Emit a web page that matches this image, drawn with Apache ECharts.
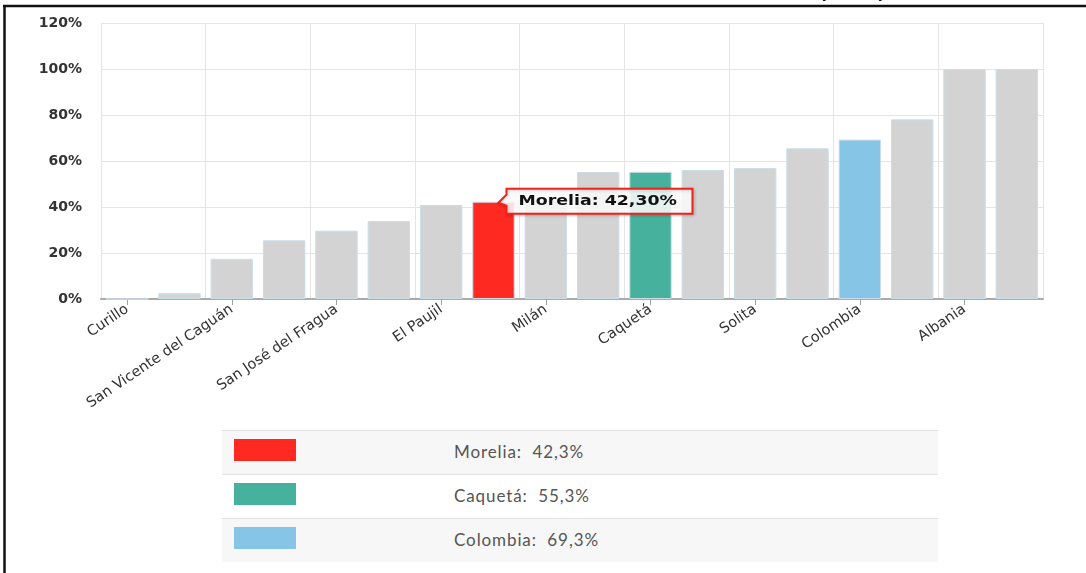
<!DOCTYPE html>
<html>
<head>
<meta charset="utf-8">
<script src="https://cdn.jsdelivr.net/npm/echarts@6/dist/echarts.min.js"></script>
<style>
  html, body { margin: 0; padding: 0; background: #fff; }
  #wrap { position: relative; width: 1086px; height: 573px; overflow: hidden; }
  #chart { position: absolute; left: 0; top: 0; width: 1086px; height: 573px; }
  #legendTable { position: absolute; left: 222px; top: 430px; width: 716px; font-family: Lato, "Open Sans", sans-serif; }
  .row { position: relative; height: 44px; border-top: 1px solid #e2e2e2; box-sizing: border-box; }
  .row .sw { position: absolute; left: 12px; top: 8px; width: 62px; height: 22px; }
  .row .tx { position: absolute; left: 232px; top: 0; line-height: 42px; font-size: 17px; color: #555; letter-spacing: 0.9px; white-space: pre; }
</style>
</head>
<body>
<div id="wrap">
  <div id="chart"></div>
  <div id="legendTable"></div>
</div>
<script>
// ---- data ----
const categories = [
  'Curillo', 'Solano', 'San Vicente del Caguán', 'Cartagena del Chairá',
  'San José del Fragua', 'Valparaíso', 'El Paujil', 'Morelia', 'Milán',
  'La Montañita', 'Caquetá', 'Belén de los Andaquíes', 'Solita', 'Puerto Rico',
  'Colombia', 'El Doncello', 'Albania', 'Florencia'
];
const values = [0, 2.5, 17.5, 25.5, 29.7, 33.9, 40.9, 42.3, 43.0, 55.2, 55.3, 56.1, 56.9, 65.5, 69.3, 78.1, 100, 100];
const highlightNames = ['Morelia', 'Caquetá', 'Colombia'];
const highlightColors = ['#fe2a22', '#46b19c', '#86c5e6'];
const baseColor = '#d3d3d3';
const yMin = 0, yMax = 120, yStep = 20;
const tooltipName = 'Morelia';
const titleText = '(2018)';

const fmt = (v, d) => v.toFixed(d).replace('.', ',');

const chart = echarts.init(document.getElementById('chart'), null, { renderer: 'canvas' });

const barData = categories.map((c, i) => {
  const h = highlightNames.indexOf(c);
  return {
    value: values[i],
    itemStyle: { color: h >= 0 ? highlightColors[h] : baseColor }
  };
});

const option = {
  animation: false,
  backgroundColor: '#fff',
  grid: { left: 101, right: 43, top: 23, bottom: 274, containLabel: false },
  xAxis: {
    type: 'category',
    data: categories,
    boundaryGap: true,
    axisLine: { show: true, lineStyle: { color: '#ababab', width: 2 } },
    axisTick: { show: true, interval: 1, alignWithLabel: true, length: 6, lineStyle: { color: '#a0a0a0', width: 1 } },
    axisLabel: {
      interval: 1, rotate: 34, margin: 9,
      fontFamily: '"DejaVu Sans", Verdana, sans-serif', fontSize: 14.5, color: '#333'
    },
    splitLine: { show: true, interval: 1, lineStyle: { color: '#e4e4e4', width: 1 } }
  },
  yAxis: {
    type: 'value',
    min: yMin, max: yMax, interval: yStep,
    axisLine: { show: false },
    axisTick: { show: false },
    axisLabel: {
      formatter: '{value}%', margin: 19,
      fontFamily: '"DejaVu Sans", Verdana, sans-serif', fontSize: 14, fontWeight: 'bold', color: '#333'
    },
    splitLine: { lineStyle: { color: '#e4e4e4', width: 1 } }
  },
  series: [{
    type: 'bar',
    data: barData,
    barCategoryGap: '19%',
    itemStyle: { borderColor: '#cbdde8', borderWidth: 1 }
  }]
};
chart.setOption(option);

// ---- tooltip-like callout, frame, clipped title ----
const ti = categories.indexOf(tooltipName);
const p = chart.convertToPixel({ seriesIndex: 0 }, [ti, values[ti]]);
const bx = p[0] + 13, by = p[1] - 13, bw = 186, bh = 25;
const graphics = [
  {
    type: 'polygon', z: 100,
    shape: { points: [
      [bx, by], [bx + bw, by], [bx + bw, by + bh], [bx, by + bh],
      [bx, p[1] + 4], [p[0] + 5, p[1] + 1], [bx, p[1] - 7]
    ] },
    style: { fill: 'rgba(255,255,255,0.86)', stroke: '#f2231c', lineWidth: 2,
             shadowBlur: 3, shadowColor: 'rgba(0,0,0,0.18)', shadowOffsetX: 1, shadowOffsetY: 1 }
  },
  {
    type: 'text', z: 101,
    x: bx + 12, y: by + bh / 2 + 0.5, scaleX: 1.24,
    style: {
      text: tooltipName + ': ' + fmt(values[ti], 2) + '%',
      fontFamily: '"DejaVu Sans", Verdana, sans-serif', fontSize: 14, fontWeight: 'bold',
      fill: '#111', verticalAlign: 'middle', align: 'left'
    }
  },
  {
    type: 'text', z: 100, x: 819, y: 3.5,
    style: { text: titleText, fontFamily: '"DejaVu Sans", sans-serif', fontSize: 18, fontWeight: 'bold',
             fill: '#111', verticalAlign: 'bottom', align: 'left', lineHeight: 18 }
  },
  { type: 'line', z: 101, shape: { x1: 3, y1: 6, x2: 1086, y2: 6 }, style: { stroke: '#111', lineWidth: 2.5 } },
  { type: 'line', z: 101, shape: { x1: 4.5, y1: 5, x2: 4.5, y2: 573 }, style: { stroke: '#111', lineWidth: 2.5 } }
];
chart.setOption({ graphic: graphics });

// ---- legend table built from data ----
const lt = document.getElementById('legendTable');
const rowBgs = ['#f7f7f7', '#ffffff', '#f7f7f7'];
highlightNames.forEach((n, k) => {
  const v = values[categories.indexOf(n)];
  const row = document.createElement('div');
  row.className = 'row';
  row.style.background = rowBgs[k % rowBgs.length];
  const sw = document.createElement('div');
  sw.className = 'sw';
  sw.style.background = highlightColors[k];
  const tx = document.createElement('div');
  tx.className = 'tx';
  tx.textContent = n + ':  ' + fmt(v, 1) + '%';
  row.appendChild(sw); row.appendChild(tx);
  lt.appendChild(row);
});
</script>
</body>
</html>
